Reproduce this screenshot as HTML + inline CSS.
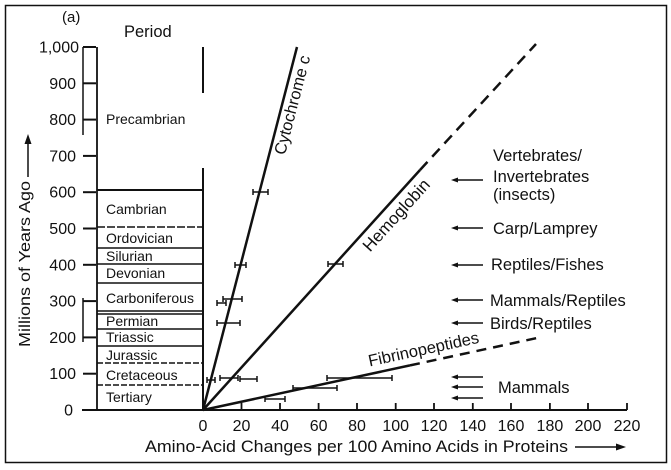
<!DOCTYPE html>
<html><head><meta charset="utf-8"><style>
html,body{margin:0;padding:0;background:#fff;}
svg{display:block;}
text{font-family:"Liberation Sans",Arial,sans-serif;fill:#111;}
</style></head><body>
<svg width="671" height="470" viewBox="0 0 671 470" xmlns="http://www.w3.org/2000/svg">
<rect x="5.5" y="5.5" width="661" height="457" fill="none" stroke="#111" stroke-width="1.5"/>
<text x="62" y="22" font-size="15">(a)</text>
<text x="124" y="37" font-size="16.5">Period</text>

<!-- Y axis labels -->
<g font-size="16" text-anchor="end">
<text x="79" y="52.5">1,000</text>
<text x="76" y="88.8">900</text>
<text x="76" y="125.1">800</text>
<text x="76" y="161.4">700</text>
<text x="76" y="197.7">600</text>
<text x="76" y="234">500</text>
<text x="76" y="270.3">400</text>
<text x="76" y="306.6">300</text>
<text x="76" y="342.9">200</text>
<text x="76" y="379.2">100</text>
<text x="73" y="415.5">0</text>
</g>
<g stroke="#111" stroke-width="2">
<line x1="83" y1="47" x2="96" y2="47"/>
<line x1="83" y1="83.3" x2="96" y2="83.3"/>
<line x1="83" y1="119.6" x2="96" y2="119.6"/>
<line x1="83" y1="155.9" x2="96" y2="155.9"/>
<line x1="83" y1="192.2" x2="96" y2="192.2"/>
<line x1="83" y1="228.5" x2="96" y2="228.5"/>
<line x1="83" y1="264.8" x2="96" y2="264.8"/>
<line x1="83" y1="301.1" x2="96" y2="301.1"/>
<line x1="83" y1="337.4" x2="96" y2="337.4"/>
<line x1="83" y1="373.7" x2="96" y2="373.7"/>
<line x1="83" y1="47" x2="83" y2="135" stroke-width="1.5"/>
<line x1="83" y1="298" x2="83" y2="342" stroke-width="1.5"/>
</g>

<!-- Y axis title -->
<text transform="translate(30,264) rotate(-90)" font-size="16" text-anchor="middle" textLength="166" lengthAdjust="spacingAndGlyphs">Millions of Years Ago</text>
<line x1="28" y1="177" x2="28" y2="142" stroke="#111" stroke-width="1.5"/>
<polygon points="28,134 24.5,144 31.5,144" fill="#111"/>

<!-- Period box -->
<g stroke="#111" fill="none">
<line x1="97" y1="47" x2="97" y2="410" stroke-width="1.8"/>
<line x1="203" y1="47" x2="203" y2="93" stroke-width="2"/>
<line x1="203" y1="168" x2="203" y2="410" stroke-width="2"/>
<line x1="97" y1="190" x2="203" y2="190" stroke-width="2"/>
<line x1="97" y1="227" x2="203" y2="227" stroke-width="1.5" stroke-dasharray="8,2"/>
<line x1="97" y1="248" x2="203" y2="248" stroke-width="1.5"/>
<line x1="97" y1="264" x2="203" y2="264" stroke-width="1.5"/>
<line x1="97" y1="283" x2="203" y2="283" stroke-width="1.5"/>
<line x1="97" y1="311" x2="203" y2="311" stroke-width="1.5"/>
<line x1="97" y1="314" x2="203" y2="314" stroke-width="1.5"/>
<line x1="97" y1="329" x2="203" y2="329" stroke-width="1.5"/>
<line x1="97" y1="346" x2="203" y2="346" stroke-width="1.5"/>
<line x1="97" y1="363" x2="203" y2="363" stroke-width="1.5" stroke-dasharray="6,2"/>
<line x1="97" y1="385" x2="203" y2="385" stroke-width="1.5" stroke-dasharray="6,2"/>
</g>
<g font-size="14">
<text x="106" y="124">Precambrian</text>
<text x="106" y="214">Cambrian</text>
<text x="106" y="243">Ordovician</text>
<text x="106" y="261">Silurian</text>
<text x="106" y="278">Devonian</text>
<text x="106" y="303">Carboniferous</text>
<text x="106" y="326">Permian</text>
<text x="106" y="342">Triassic</text>
<text x="106" y="360">Jurassic</text>
<text x="106" y="380">Cretaceous</text>
<text x="106" y="402">Tertiary</text>
</g>

<!-- X axis -->
<line x1="82" y1="410" x2="627" y2="410" stroke="#111" stroke-width="2"/>
<g stroke="#111" stroke-width="1.8">
<line x1="241.5" y1="403" x2="241.5" y2="410"/>
<line x1="280" y1="403" x2="280" y2="410"/>
<line x1="318.6" y1="403" x2="318.6" y2="410"/>
<line x1="357" y1="403" x2="357" y2="410"/>
<line x1="395.7" y1="403" x2="395.7" y2="410"/>
<line x1="434" y1="403" x2="434" y2="410"/>
<line x1="472.8" y1="403" x2="472.8" y2="410"/>
<line x1="511" y1="403" x2="511" y2="410"/>
<line x1="549.9" y1="403" x2="549.9" y2="410"/>
<line x1="588" y1="403" x2="588" y2="410"/>
<line x1="627" y1="403" x2="627" y2="410"/>
</g>
<g font-size="16" text-anchor="middle">
<text x="203" y="431">0</text>
<text x="241.5" y="431">20</text>
<text x="280" y="431">40</text>
<text x="318.6" y="431">60</text>
<text x="357" y="431">80</text>
<text x="395.7" y="431">100</text>
<text x="434" y="431">120</text>
<text x="472.8" y="431">140</text>
<text x="511" y="431">160</text>
<text x="549.9" y="431">180</text>
<text x="588" y="431">200</text>
<text x="627" y="431">220</text>
</g>
<text x="145" y="452" font-size="16.5" textLength="423" lengthAdjust="spacingAndGlyphs">Amino-Acid Changes per 100 Amino Acids in Proteins</text>
<line x1="575" y1="447" x2="618" y2="447" stroke="#111" stroke-width="1.5"/>
<polygon points="626,447 616,443.5 616,450.5" fill="#111"/>

<!-- Series lines -->
<g stroke="#111" fill="none" stroke-width="2.5">
<line x1="203" y1="410" x2="297" y2="47"/>
<line x1="203" y1="410" x2="420" y2="170"/>
<line x1="420" y1="170" x2="536" y2="44" stroke-dasharray="11,7"/>
<line x1="203" y1="410" x2="410" y2="365.4"/>
<line x1="410" y1="365.4" x2="537" y2="338" stroke-dasharray="10,7"/>
</g>

<!-- Error bars -->
<g stroke="#111" stroke-width="1.5" fill="none">
<path d="M253 192H268M253 189V195M268 189V195"/>
<path d="M235 265H246M235 262V268M246 262V268"/>
<path d="M223 299H242M223 296V302M242 296V302"/>
<path d="M217 303H226M217 300V306M226 300V306"/>
<path d="M217 323H240M217 320V326M240 320V326"/>
<path d="M207 380H215M207 377V383M215 377V383"/>
<path d="M220 378H238M220 375V381M238 375V381"/>
<path d="M240 379H257M240 376V382M257 376V382"/>
<path d="M328 264H343M328 261V267M343 261V267"/>
<path d="M327 378H392M327 375V381M392 375V381"/>
<path d="M293 388H337M293 385V391M337 385V391"/>
<path d="M265 399H285M265 396V402M285 396V402"/>
</g>

<!-- Series labels -->
<text transform="translate(297.6,106.4) rotate(-75.5)" font-size="16.5" text-anchor="middle">Cytochrome c</text>
<text transform="translate(400.5,219) rotate(-47.8)" font-size="17" text-anchor="middle">Hemoglobin</text>
<text transform="translate(424.7,354.6) rotate(-12.2)" font-size="16.5" text-anchor="middle">Fibrinopeptides</text>

<!-- Right-side arrows -->
<g stroke="#111" stroke-width="1.5">
<line x1="456" y1="180" x2="483" y2="180"/>
<line x1="456" y1="228" x2="483" y2="228"/>
<line x1="456" y1="265" x2="483" y2="265"/>
<line x1="456" y1="300" x2="483" y2="300"/>
<line x1="456" y1="323" x2="483" y2="323"/>
<line x1="456" y1="377" x2="483" y2="377"/>
<line x1="456" y1="387" x2="483" y2="387"/>
<line x1="456" y1="398" x2="483" y2="398"/>
</g>
<g fill="#111">
<polygon points="451,180 458,177.5 458,182.5"/>
<polygon points="451,228 458,225.5 458,230.5"/>
<polygon points="451,265 458,262.5 458,267.5"/>
<polygon points="451,300 458,297.5 458,302.5"/>
<polygon points="451,323 458,320.5 458,325.5"/>
<polygon points="451,377 458,374.5 458,379.5"/>
<polygon points="451,387 458,384.5 458,389.5"/>
<polygon points="451,398 458,395.5 458,400.5"/>
</g>
<g font-size="16.5">
<text x="493" y="161">Vertebrates/</text>
<text x="493" y="182">Invertebrates</text>
<text x="493" y="200">(insects)</text>
<text x="493" y="234">Carp/Lamprey</text>
<text x="491" y="270">Reptiles/Fishes</text>
<text x="490" y="306">Mammals/Reptiles</text>
<text x="490" y="329">Birds/Reptiles</text>
<text x="498" y="393">Mammals</text>
</g>
</svg>
</body></html>
